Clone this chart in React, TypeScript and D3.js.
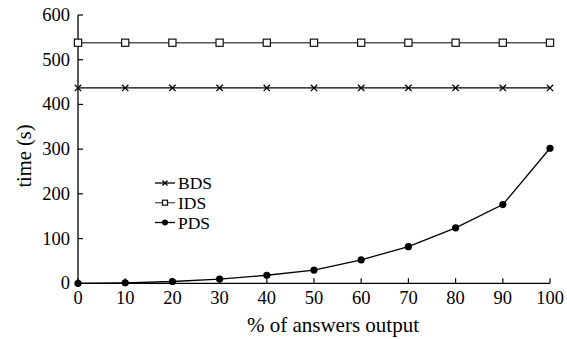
import React from "react";
import * as d3 from "d3";

const xValues = [0, 10, 20, 30, 40, 50, 60, 70, 80, 90, 100];
const bds = [437, 437, 437, 437, 437, 437, 437, 437, 437, 437, 437];
const ids = [538, 538, 538, 538, 538, 538, 538, 538, 538, 538, 538];
const pds = [0, 1, 4, 9.5, 18, 29.5, 52.5, 82, 124, 176, 302];
const yTicks = [0, 100, 200, 300, 400, 500, 600];
const xTicks = [0, 10, 20, 30, 40, 50, 60, 70, 80, 90, 100];

const W = 567, H = 339;
const L = 78, R = 550, T = 15, B = 283.3;
const FONT = "'Liberation Serif'";

export default function App() {
  const x = d3.scaleLinear().domain([0, 100]).range([L, R]);
  const y = d3.scaleLinear().domain([0, 600]).range([B, T]);
  const line = d3.line<number>().x((_, i) => x(xValues[i])).y((d) => y(d));
  const ts = { fontFamily: FONT };

  const cross = (cx: number, cy: number, s: number, key: string) => (
    <path key={key} d={`M${cx - s},${cy - s}L${cx + s},${cy + s}M${cx - s},${cy + s}L${cx + s},${cy - s}`} stroke="#000" strokeWidth={1.3} />
  );
  const square = (cx: number, cy: number, s: number, key: string) => (
    <rect key={key} x={cx - s} y={cy - s} width={2 * s} height={2 * s} fill="#fff" stroke="#111" strokeWidth={1.2} />
  );
  const dot = (cx: number, cy: number, r: number, key: string) => (
    <circle key={key} cx={cx} cy={cy} r={r} fill="#000" />
  );

  const legendX1 = 155, legendX2 = 175;
  const legendRows = [
    { name: "BDS", y: 183, kind: "cross" },
    { name: "IDS", y: 202.7, kind: "square" },
    { name: "PDS", y: 222.5, kind: "dot" },
  ];

  return (
    <svg width={W} height={H} style={{ position: "absolute", left: 0, top: 0 }}>
      <rect width={W} height={H} fill="#fff" />
      <line x1={L} x2={L} y1={T} y2={B} stroke="#000" strokeWidth={1.3} />
      <line x1={L} x2={R} y1={B} y2={B} stroke="#000" strokeWidth={1.3} />
      {yTicks.map((t) => (
        <g key={"y" + t}>
          <line x1={L} x2={L + 5} y1={y(t)} y2={y(t)} stroke="#000" strokeWidth={1.2} />
          <text style={ts} x={70} y={y(t) + 6} textAnchor="end" fontSize={18.5}>{t}</text>
        </g>
      ))}
      {xTicks.map((t) => (
        <g key={"x" + t}>
          <line x1={x(t)} x2={x(t)} y1={B} y2={B - 5} stroke="#000" strokeWidth={1.2} />
          <text style={ts} x={x(t)} y={303.5} textAnchor="middle" fontSize={18.5}>{t}</text>
        </g>
      ))}
      <text style={ts} x={333} y={332} textAnchor="middle" fontSize={21}>% of answers output</text>
      <text style={ts} transform={`translate(31,156) rotate(-90)`} textAnchor="middle" fontSize={20.5}>time (s)</text>

      <path d={line(ids) || ""} fill="none" stroke="#555" strokeWidth={1.6} />
      {ids.map((v, i) => square(x(xValues[i]), y(v), 3.6, "s" + i))}
      <path d={line(bds) || ""} fill="none" stroke="#000" strokeWidth={1.3} />
      {bds.map((v, i) => cross(x(xValues[i]), y(v), 3.2, "c" + i))}
      <path d={line(pds) || ""} fill="none" stroke="#000" strokeWidth={1.3} />
      {pds.map((v, i) => dot(x(xValues[i]), y(v), 3.6, "d" + i))}

      {legendRows.map((r) => {
        const cx = (legendX1 + legendX2) / 2;
        return (
          <g key={r.name}>
            <line x1={legendX1} x2={legendX2} y1={r.y} y2={r.y} stroke={r.kind === "square" ? "#555" : "#000"} strokeWidth={1.3} />
            {r.kind === "cross" && cross(cx, r.y, 2.5, "lc")}
            {r.kind === "square" && square(cx, r.y, 2.5, "ls")}
            {r.kind === "dot" && dot(cx, r.y, 3, "ld")}
            <text style={ts} x={178} y={r.y + 6} fontSize={17.5}>{r.name}</text>
          </g>
        );
      })}
    </svg>
  );
}
